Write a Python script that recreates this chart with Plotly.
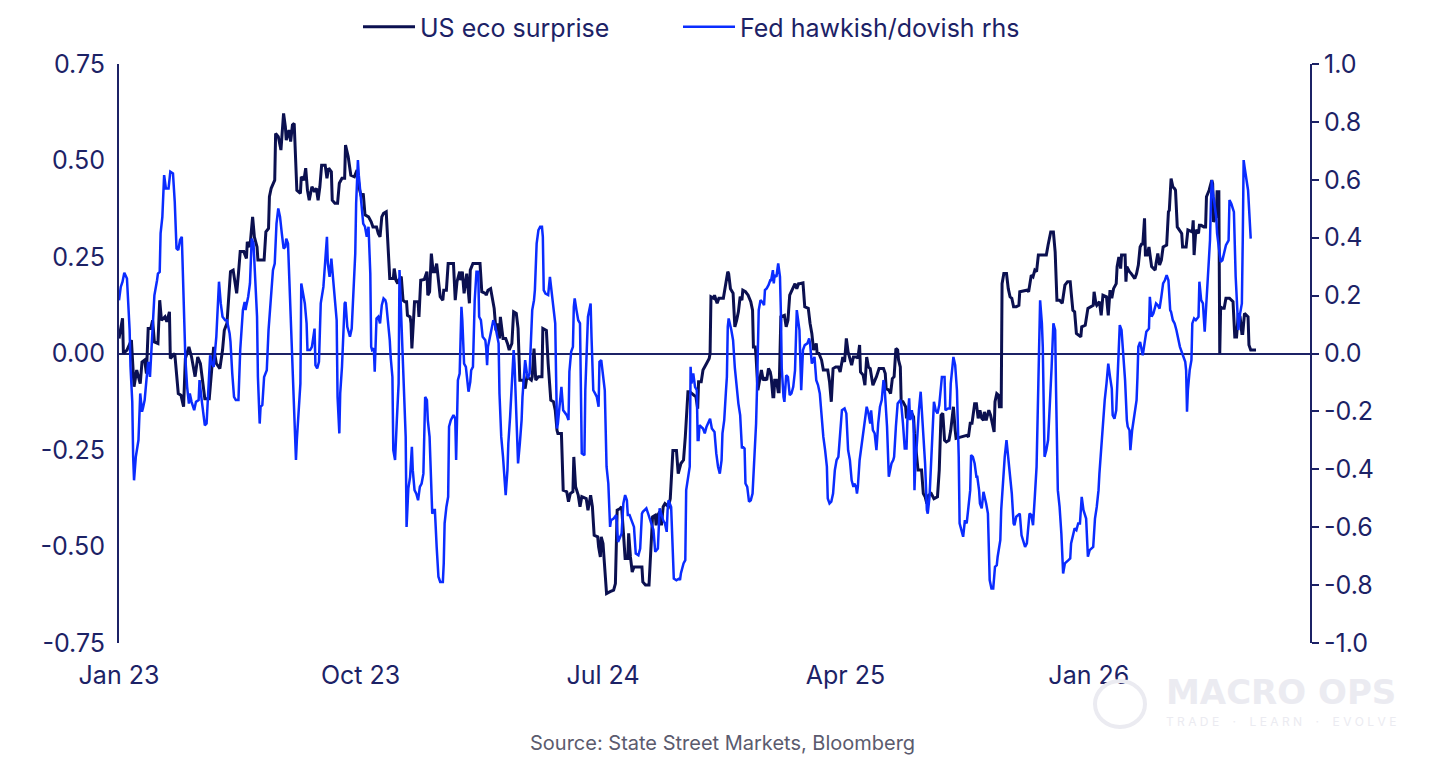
import pandas as pd
import plotly.graph_objects as go

START = pd.Timestamp("2023-01-01")

# ---- US eco surprise (left axis): day offset from 2023-01-01, value ----
eco_days = [
    0, 4, 5, 9, 14, 17, 20, 24, 26, 29, 31, 33, 36, 38, 40, 44, 46, 48, 52, 54, 57, 58, 63, 67, 70, 73, 75, 79, 82, 86,
    89, 92, 97, 102, 105, 107, 110, 114, 117, 119, 122, 124, 126, 129, 133, 135, 137, 141, 144, 145, 148, 151, 153, 156,
    157, 164, 166, 169, 170,
    172, 176, 177, 180, 183, 186, 188, 189, 192, 194, 196, 198, 201, 205, 206, 209, 211, 213, 215, 218, 221, 223, 225,
    227, 229, 233, 235, 237, 240, 241, 244, 247, 249, 252, 255, 256, 259, 262, 266, 269, 272, 274, 276, 278, 282, 285,
    287, 291, 293, 295, 297, 299, 302, 304, 305, 306, 310, 311, 313, 315, 316, 319, 321, 323, 325, 326, 329, 330, 331,
    334, 338, 339, 341, 345,
    348, 349, 351, 353, 355, 357, 359, 361, 363, 366, 367, 370, 372, 378, 380, 382, 385, 386, 388, 390, 393, 396, 397,
    400, 408, 410, 414, 415, 417, 420, 422, 424, 426, 428, 430, 431, 434, 437, 439, 441, 444, 446, 449, 451, 453, 457,
    459, 461, 466, 467, 469, 471, 474, 478, 479, 483, 485, 488, 491, 493, 495, 496, 500, 502, 506, 508, 510, 513, 514,
    516, 519, 521,
    523, 528, 530, 533, 535, 537, 541, 542, 544, 545, 547, 549, 551, 555, 559, 561, 563, 566, 568, 570, 572, 575, 576,
    578, 580, 582, 591, 592, 595, 599, 601, 603, 606, 607, 609, 611, 613, 615, 617, 621, 623, 624, 626, 630, 632, 635,
    638, 640, 643, 645, 648, 652, 654, 655, 658, 660, 664, 667, 668, 669, 672, 673, 676, 678, 683, 685, 688, 689, 691,
    694,
    696, 698, 700, 702, 704, 705, 708, 711, 714, 716, 717, 719, 720, 722, 724, 726, 728, 730, 732, 734, 736, 737, 739,
    740, 741, 743, 745, 746, 748, 751, 752, 754, 756, 758, 760, 762, 764, 766, 768, 769, 773, 775, 779, 781, 783, 785,
    786, 788, 789, 791, 794, 796, 801, 803, 805, 807, 810, 813, 815, 818, 820, 822, 824, 828, 830, 834, 835, 837, 838,
    841, 843, 845, 847, 849, 852, 854, 856, 859, 864, 866, 867, 870,
    872, 874, 876, 878, 880, 881, 883, 884, 886, 889, 890, 892, 894, 896, 898, 899, 901, 903, 907, 909, 911, 913, 915,
    918, 921, 925, 927, 929, 931, 933, 935, 938, 940, 943, 945, 946, 958, 960, 962, 964, 967, 969, 971, 973, 975, 977,
    978, 980, 983, 985, 987, 989, 990, 992, 994, 995, 997, 998, 1000, 1003, 1005, 1007, 1009, 1011, 1014, 1017, 1018,
    1026, 1028, 1029, 1031, 1033, 1035, 1037, 1039, 1046,
    1048, 1050, 1053, 1056, 1058, 1060, 1063, 1066, 1069, 1072, 1075, 1076, 1078, 1080, 1082, 1087, 1088, 1092, 1093,
    1095, 1101, 1102, 1104, 1105, 1108, 1110, 1112, 1116, 1118, 1120, 1122, 1124, 1127, 1128, 1130, 1132, 1133, 1137,
    1138, 1139, 1142, 1144, 1148, 1150, 1152, 1154, 1156, 1157, 1159, 1160, 1162, 1164, 1167, 1171, 1172, 1174, 1176,
    1178, 1180, 1184, 1186, 1187, 1189, 1191, 1193, 1194, 1196, 1201, 1202, 1206, 1208, 1213, 1214, 1215, 1217, 1220,
    1221,
    1223, 1226, 1228, 1229, 1232, 1235, 1236, 1237, 1240, 1241, 1243, 1244, 1245, 1247, 1249, 1251, 1255, 1259, 1261,
    1263, 1265, 1267, 1269, 1270, 1272, 1276, 1277, 1279, 1285,
]
eco_vals = [
    0.039, 0.091, 0.0, 0.009, 0.035, -0.086, -0.043, -0.078, -0.022, -0.017, -0.052, 0.065, 0.065, 0.086, 0.030, 0.026,
    0.138, 0.086, 0.095, 0.082, 0.108, -0.013, 0.0, -0.104, -0.108, -0.138, -0.013, 0.017, -0.009, -0.060,
    -0.009, -0.026, -0.117, -0.117, -0.035, 0.017, -0.026, -0.039, 0.009, 0.060, 0.078, 0.143, 0.212, 0.216, 0.156,
    0.207, 0.264, 0.264, 0.246, 0.289, 0.276, 0.354, 0.302, 0.276,
    0.242, 0.242, 0.315, 0.324, 0.406,
    0.428, 0.449, 0.570, 0.562, 0.527, 0.622, 0.588, 0.553, 0.579, 0.549, 0.592, 0.596, 0.423, 0.415, 0.458, 0.449,
    0.480, 0.423, 0.397, 0.432, 0.419, 0.428, 0.397,
    0.432, 0.488, 0.488, 0.454, 0.480, 0.471, 0.397, 0.389, 0.389, 0.441, 0.454, 0.454, 0.540, 0.510, 0.462, 0.458,
    0.475, 0.423, 0.406, 0.415, 0.359, 0.354, 0.341,
    0.328, 0.328, 0.311, 0.302, 0.354, 0.363, 0.367, 0.268, 0.259, 0.194, 0.194, 0.220, 0.190, 0.181, 0.190, 0.199,
    0.138, 0.134, 0.134, 0.099, 0.095, 0.078, 0.013,
    0.134, 0.134, 0.095, 0.190, 0.192,
    0.212, 0.151, 0.160, 0.259, 0.212, 0.212, 0.233, 0.181, 0.147, 0.138, 0.164, 0.164, 0.233, 0.233, 0.138, 0.186,
    0.212, 0.190, 0.212, 0.156, 0.207, 0.130, 0.216,
    0.233, 0.233, 0.160, 0.156, 0.151, 0.164, 0.168, 0.147, 0.117, 0.060, 0.078, 0.039, 0.095, 0.039, 0.039, 0.026,
    0.009, 0.026, 0.108, 0.104, 0.065, -0.069, -0.069,
    -0.091, -0.060, -0.069, -0.060, 0.013, -0.069, -0.060, -0.060, 0.065, 0.060, -0.026, -0.121, -0.125, -0.147,
    -0.199, -0.207, -0.207, -0.354, -0.358, -0.384, -0.363, -0.358, -0.268,
    -0.345, -0.367, -0.397,
    -0.371, -0.376, -0.406, -0.367, -0.397, -0.471, -0.475, -0.501, -0.527, -0.475, -0.492, -0.561, -0.622, -0.617,
    -0.613, -0.596, -0.406, -0.402, -0.397, -0.462, -0.531, -0.531, -0.466,
    -0.527, -0.566, -0.553, -0.553, -0.592, -0.600, -0.600, -0.510, -0.423, -0.419, -0.445, -0.419, -0.410, -0.445,
    -0.397, -0.389, -0.397, -0.376, -0.324, -0.251, -0.251, -0.311, -0.285,
    -0.276, -0.216, -0.099, -0.099, -0.104, -0.112, -0.143, -0.073, -0.073, -0.043, -0.026, -0.013, 0.0, 0.147, 0.143,
    0.151, 0.130, 0.143, 0.143, 0.173, 0.212, 0.207, 0.168,
    0.156,
    0.069, 0.086, 0.108, 0.147, 0.138, 0.164, 0.160, 0.151, 0.134, 0.112, 0.017, 0.017, -0.009, -0.095, -0.069, -0.043,
    -0.069, -0.065, -0.069, -0.039, -0.048, -0.060, -0.112,
    -0.112, -0.069, -0.069, -0.099, -0.099, 0.095, 0.099, 0.099, 0.069, 0.086, 0.151, 0.160, 0.173, 0.181, 0.168,
    0.181, 0.181, 0.183, 0.121, 0.117, 0.078, 0.052, 0.009,
    0.017, 0.026, 0.0, 0.0, -0.017, -0.043, -0.043, -0.073, -0.125, -0.039, -0.035, -0.035, -0.048, -0.009, -0.022,
    0.039, 0.004, -0.030, -0.009, -0.009, -0.013, 0.022, -0.048,
    -0.056, -0.082, -0.009, -0.035, -0.039, -0.082, -0.073, -0.060, -0.039, -0.039, -0.052, -0.091, -0.095,
    -0.104, -0.065, -0.060, 0.013, 0.009, -0.017, -0.035, -0.125, -0.125, -0.138, -0.168, -0.147, -0.160, -0.155,
    -0.164, -0.207, -0.251, -0.302, -0.302, -0.363, -0.371, -0.389, -0.367,
    -0.363, -0.376, -0.371, -0.302, -0.160, -0.155, -0.225, -0.229, -0.225, -0.199, -0.138, -0.199, -0.220, -0.212,
    -0.216, -0.181, -0.181, -0.130, -0.130, -0.168, -0.147, -0.168, -0.173,
    -0.151, -0.173, -0.147, -0.160, -0.181, -0.203, -0.125, -0.104, -0.108, -0.138, -0.138, 0.181, 0.207, 0.207, 0.168,
    0.147, 0.143, 0.121, 0.121, 0.125, 0.160,
    0.164, 0.160, 0.173, 0.203, 0.199, 0.216, 0.212, 0.255, 0.255,
    0.255, 0.281, 0.315, 0.315, 0.263, 0.138, 0.138, 0.130, 0.177, 0.186, 0.186, 0.160, 0.112, 0.108, 0.052, 0.043,
    0.069, 0.073, 0.091,
    0.117, 0.125, 0.160, 0.130, 0.125, 0.134, 0.099, 0.151, 0.147, 0.099, 0.164, 0.143, 0.168, 0.181, 0.225, 0.250,
    0.220, 0.255, 0.255,
    0.186, 0.225, 0.212, 0.207, 0.194, 0.207, 0.229, 0.276, 0.285, 0.281, 0.350, 0.255, 0.255, 0.276, 0.225, 0.216,
    0.233, 0.259, 0.229,
    0.242, 0.276, 0.281, 0.367, 0.371, 0.453, 0.432, 0.427, 0.423, 0.328, 0.311, 0.276, 0.276, 0.320, 0.315, 0.345,
    0.255, 0.320, 0.311,
    0.332,
    0.332, 0.328, 0.328, 0.406, 0.423, 0.449, 0.440, 0.341, 0.354, 0.419, 0.419, 0.0, 0.121, 0.117, 0.117, 0.143,
    0.143, 0.134, 0.043,
    0.043, 0.104, 0.095, 0.052, 0.052, 0.104, 0.095, 0.022, 0.009, 0.009,
]

# ---- Fed hawkish/dovish (right axis): day offset from 2023-01-01, value ----
fed_days = [
    0, 2, 4, 6, 9, 11, 12, 13, 15, 16, 17, 19, 22, 24, 26, 27, 29, 31, 33, 35, 37, 39, 40, 43, 44, 46, 47, 49, 51, 53,
    56, 58, 61, 63, 65, 67, 69, 71, 73, 75, 77, 79, 80, 82, 85, 87, 90, 91, 93, 95, 97, 99, 101, 103, 105, 107, 110,
    111, 113, 115, 117, 120, 122, 125, 126, 128, 130, 132, 135, 137, 139, 140, 142, 143, 144, 146, 148, 150, 152, 154,
    156, 157, 159, 160, 162, 164, 167, 169, 171,
    173, 174, 176, 178, 180, 182, 184, 186, 188, 189, 191, 193, 195, 197, 198, 200, 201, 203, 205, 206, 208, 210, 212,
    213, 216, 218, 221, 222, 224, 226, 228, 231, 233, 235, 236, 238, 240, 242, 244, 246, 247, 249, 250, 251, 252, 255,
    256, 258, 261, 263, 265, 267, 268, 270, 271, 272, 274, 276, 278, 280, 282, 284, 285, 286, 288, 289, 291, 293, 295,
    297, 299, 301, 302, 304, 306, 307, 309, 310, 312, 314, 316, 317, 319, 322, 324, 325, 327, 329, 331, 332, 334, 336,
    338, 340, 342, 344, 346,
    348, 349, 351, 353, 354, 356, 357, 359, 361, 363, 366, 367, 368, 370, 372, 373, 375, 378, 380, 381, 382, 383, 385,
    387, 388, 390, 392, 394, 395, 397, 398, 400, 402, 404, 406, 407, 409, 411, 414, 415, 416, 417, 419, 421, 423, 425,
    427, 429, 430, 432, 434, 436, 437, 439, 440, 442, 444, 446, 447, 449, 451, 453, 455, 456, 458, 459, 461, 462, 464,
    467, 469, 470, 472, 474, 476, 478, 479, 480, 482, 485, 487, 489, 491, 493, 494, 495, 496, 498, 500, 502, 504, 506,
    508, 509, 511, 513, 514, 515, 517, 519, 521,
    522, 523, 526, 527, 530, 531, 533, 534, 536, 538, 540, 542, 543, 545, 547, 549, 551, 553, 555, 556, 559, 562, 564,
    566, 568, 570, 572, 574, 575, 577, 580, 582, 584, 587, 589, 591, 592, 596, 598, 602, 604, 606, 609, 611, 615, 617,
    619, 620, 621, 624, 625, 627, 630, 633, 634, 635, 638, 640, 641, 643, 645, 646, 647, 649, 651, 653, 654, 655, 656,
    660, 662, 664, 668, 670, 673, 675, 677, 679, 681, 682, 684, 686, 687, 688, 689, 692, 694, 696,
    698, 700, 702, 704, 705, 707, 708, 710, 712, 714, 716, 717, 720, 721, 722, 723, 725, 727, 729, 730, 732, 734, 736,
    737, 739, 740, 741, 743, 745, 747, 748, 749, 751, 752, 754, 756, 758, 760, 762, 764, 766, 768, 769, 771, 773, 775,
    778, 780, 781, 783, 785, 786, 788, 790, 792, 794, 796, 798, 800, 801, 803, 805, 807, 809, 811, 813, 815, 817, 820,
    822, 824, 826, 828, 830, 831, 833, 834, 835, 837, 839, 841, 843, 845, 847, 849, 850, 852, 854, 856, 858, 860, 862,
    864, 865, 867, 868, 870,
    873, 875, 876, 878, 880, 883, 884, 886, 888, 890, 891, 893, 894, 896, 898, 899, 900, 902, 903, 904, 906, 908, 910,
    911, 913, 914, 916, 918, 919, 921, 923, 925, 927, 929, 930, 933, 934, 937, 939, 940, 942, 943, 945, 947, 948, 949,
    950, 952, 954, 956, 958, 960, 962, 963, 965, 967, 969, 970, 972, 973, 975, 977, 978, 980, 982, 983, 984, 986, 988,
    990, 992, 993, 994, 996, 997, 999, 1001, 1003, 1005, 1007, 1009, 1011, 1012, 1014, 1018, 1020, 1022, 1024, 1026,
    1028, 1029, 1031, 1033, 1035, 1037, 1039, 1041, 1043, 1044, 1046,
    1048, 1050, 1052, 1054, 1056, 1058, 1059, 1061, 1063, 1065, 1067, 1069, 1073, 1075, 1076, 1078, 1080, 1082, 1084,
    1086, 1088, 1090, 1092, 1093, 1095, 1097, 1101, 1103, 1105, 1107, 1108, 1110, 1112, 1114, 1116, 1118, 1120, 1122,
    1123, 1125, 1127, 1129, 1131, 1133, 1135, 1137, 1139, 1140, 1142, 1143, 1145, 1148, 1150, 1151, 1152, 1154, 1156,
    1157, 1159, 1161, 1164, 1165, 1167, 1169, 1171, 1172, 1174, 1176, 1178, 1180, 1182, 1184, 1186, 1187, 1188, 1189,
    1191, 1193, 1195, 1199, 1202, 1205, 1206, 1207, 1208, 1210, 1212, 1213, 1215, 1217, 1220, 1221,
    1223, 1225, 1227, 1229, 1231, 1233, 1234, 1235, 1237, 1240, 1241, 1243, 1245, 1247, 1249, 1251, 1254, 1255, 1257,
    1260, 1262, 1264, 1265, 1267, 1269, 1270, 1271, 1272, 1274, 1276, 1279,
]
fed_vals = [
    0.184, 0.230, 0.248, 0.279, 0.259, 0.150, 0.081, -0.046, -0.167, -0.357, -0.438, -0.357, -0.299, -0.138, -0.201,
    -0.190, -0.161, -0.092, -0.029, -0.081, 0.035, 0.144, 0.201, 0.253, 0.276, 0.282, 0.415, 0.472, 0.616, 0.570,
    0.570, 0.628, 0.622, 0.524, 0.363, 0.357, 0.392, 0.403, 0.219, -0.017, -0.115, -0.173, -0.138, -0.167, -0.196,
    -0.167, -0.161, -0.092, -0.150, -0.207, -0.248, -0.242, -0.115, -0.006, -0.035, -0.046, 0.058,
    0.127, 0.248, 0.173, 0.127, 0.115, 0.115, 0.069, 0.040, -0.069, -0.150, -0.161, -0.161, 0.012, 0.115, 0.150,
    0.178, 0.150, 0.167, 0.196, 0.242, 0.397, 0.380, 0.230,
    0.127, -0.081, -0.242, -0.184, -0.178, -0.081, -0.058, 0.081, 0.173,
    0.230, 0.288, 0.311, 0.449, 0.501, 0.472, 0.415, 0.363, 0.368, 0.397, 0.380, 0.219, 0.035, -0.069, -0.196, -0.368,
    -0.299, -0.196, -0.104, 0.242, 0.207, 0.173, 0.104,
    0.012, 0.012, 0.023, 0.086, -0.040, -0.052, -0.029, 0.173, 0.230, 0.317, 0.403, 0.311, 0.265, 0.328, 0.259, 0.161,
    0.115, -0.150, -0.276, -0.138, -0.092, -0.046, 0.173,
    0.178, 0.092, 0.058, 0.086, 0.242, 0.345, 0.518, 0.668, 0.616, 0.576, 0.530, 0.449, 0.438, 0.403, 0.438, 0.276,
    0.023, 0.012, 0.017, -0.063, 0.121, 0.127, 0.104,
    0.167, 0.190, 0.184, 0.173, 0.115, 0.046, -0.012, -0.081, -0.334, -0.368, -0.230, -0.104, 0.288, 0.104, -0.104,
    -0.288, -0.599, -0.466, -0.426, -0.322, -0.403, -0.472, -0.484,
    -0.507, -0.461, -0.449, -0.415, -0.150,
    -0.161, -0.230, -0.288, -0.495, -0.553, -0.541, -0.541, -0.668, -0.771, -0.789, -0.789, -0.725, -0.587, -0.530,
    -0.495, -0.253, -0.230, -0.213, -0.225, -0.368, -0.138, -0.092, -0.069,
    0.161, 0.115, -0.035, -0.046, -0.104, -0.132, -0.098, -0.058, -0.046, 0.184, 0.282, 0.282, 0.127, 0.115, 0.058,
    0.046, 0.017, -0.040, 0.023, 0.058, 0.081, 0.115, 0.098,
    0.058, 0.035, -0.138, -0.288, -0.357, -0.472, -0.489, -0.403, -0.311, -0.219, -0.081, 0.012, -0.035, -0.196,
    -0.380, -0.311, -0.230, -0.150, -0.063, -0.023, -0.069, -0.086, -0.069,
    0.150, 0.184, 0.219, 0.380, 0.426, 0.438, 0.438, 0.403, 0.219, 0.207, 0.202, 0.265, 0.207, 0.138, 0.104, -0.081,
    -0.259, -0.242, -0.184, -0.115, -0.196, -0.207, -0.213,
    -0.230, -0.063, 0.006, 0.023, 0.161, 0.190, 0.150, 0.115, 0.104,
    -0.196, -0.345, -0.351, -0.127, 0.127, 0.144, 0.173, 0.058, -0.127, -0.138, -0.150, -0.184, -0.029, -0.023, -0.081,
    -0.127, -0.391, -0.449, -0.599, -0.576, -0.570, -0.558, -0.651,
    -0.639, -0.622, -0.518, -0.489, -0.507, -0.558, -0.558, -0.587, -0.599, -0.691, -0.697, -0.674, -0.553, -0.547,
    -0.535, -0.553, -0.587, -0.610, -0.685, -0.674, -0.535, -0.576, -0.587,
    -0.616, -0.541, -0.507, -0.530, -0.645, -0.777, -0.783, -0.777, -0.783, -0.760, -0.725, -0.714, -0.472, -0.438,
    -0.391, -0.046, -0.104, -0.069, -0.115, -0.127, -0.299, -0.299, -0.248,
    -0.259, -0.276, -0.253, -0.225, -0.259, -0.271, -0.345, -0.391, -0.415, -0.368, -0.276, -0.230, -0.127, -0.081,
    0.092, 0.121, 0.081, 0.046, -0.050,
    -0.127, -0.173, -0.213, -0.328, -0.322, -0.328, -0.449, -0.461, -0.512, -0.507, -0.484, -0.432, -0.242, -0.127,
    0.023, 0.150, 0.184, 0.178, 0.167, 0.219, 0.225, 0.236, 0.253,
    0.253, 0.288, 0.242, 0.271, 0.265, 0.311, 0.265, 0.144, -0.052, -0.150, -0.167, -0.075, -0.081, -0.144, -0.138,
    -0.115, -0.058, 0.150, 0.104, 0.081, -0.127, 0.012, 0.029,
    0.035, 0.052, 0.035, -0.035, -0.023, -0.012, -0.092, -0.109, -0.138, -0.225, -0.288, -0.334, -0.391, -0.501,
    -0.518, -0.512, -0.484, -0.403, -0.368, -0.357, -0.265, -0.196, -0.190,
    -0.207, -0.334, -0.368, -0.438, -0.461, -0.449, -0.461, -0.484, -0.461, -0.368, -0.322, -0.265, -0.230, -0.184,
    -0.207, -0.242, -0.196, -0.265, -0.276, -0.334, -0.242, -0.184, -0.161,
    -0.092, -0.104, -0.184, -0.253, -0.426,
    -0.380, -0.368, -0.357, -0.253, -0.173, -0.161, -0.173, -0.242, -0.328, -0.328, -0.230, -0.155, -0.230, -0.196,
    -0.242, -0.472, -0.380, -0.299, -0.242, -0.196, -0.132, -0.230, -0.311,
    -0.380, -0.541, -0.553, -0.495, -0.380, -0.276, -0.167, -0.196, -0.207, -0.178, -0.092, -0.081, -0.081, -0.196,
    -0.190, -0.190, -0.104, -0.052, -0.012, -0.040, -0.127, -0.242, -0.357,
    -0.587, -0.616, -0.633, -0.576, -0.587, -0.530, -0.472, -0.351, -0.357, -0.380, -0.426, -0.426, -0.472, -0.518,
    -0.535, -0.478, -0.489, -0.518, -0.553, -0.702, -0.783, -0.812, -0.812,
    -0.737, -0.731, -0.702, -0.679, -0.645, -0.541, -0.438, -0.357, -0.299, -0.357, -0.426, -0.484, -0.587, -0.593,
    -0.564, -0.553, -0.628, -0.645, -0.668, -0.656,
    -0.587, -0.553, -0.558, -0.593, -0.495, -0.391, -0.104, 0.184, 0.104, 0.023, -0.357,
    -0.334, -0.299, -0.184, -0.046, 0.104, 0.081, -0.127, -0.472, -0.530, -0.622, -0.760, -0.725, -0.714, -0.708,
    -0.656, -0.633, -0.604, -0.610, -0.587,
    -0.587, -0.495, -0.541, -0.558, -0.570, -0.702, -0.679, -0.668, -0.570, -0.530, -0.472, -0.415, -0.322, -0.230,
    -0.161, -0.104, -0.035, -0.081, -0.121,
    -0.213, -0.225, -0.196, -0.035, 0.098, 0.081, 0.0, -0.092, -0.230, -0.253, -0.265, -0.334, -0.265, -0.196, -0.161,
    -0.081, 0.023, 0.040, 0.0,
    -0.006, 0.035, 0.075, 0.086, 0.196, 0.127, 0.138, 0.161, 0.173, 0.167, 0.155, 0.196, 0.242, 0.253, 0.271, 0.253,
    0.184, 0.150, 0.144,
    0.115, 0.104, 0.081, 0.023, -0.006, -0.029, -0.058, -0.201, -0.127, -0.058, -0.023, 0.104, 0.121, 0.115, 0.127,
    0.248,
    0.184, 0.173, 0.075, 0.196, 0.299, 0.391, 0.518, 0.599, 0.541, 0.472, 0.415, 0.357, 0.317, 0.322, 0.345, 0.374,
    0.391, 0.530, 0.518,
    0.489, 0.265, 0.150, 0.081, 0.138, 0.173, 0.391, 0.668, 0.645, 0.610, 0.564, 0.397,
]

# ---- axis ticks ----
x_tick_dates = ["2023-01-01", "2023-10-01", "2024-07-01", "2025-04-01", "2026-01-01"]
x_tick_text = ["Jan 23", "Oct 23", "Jul 24", "Apr 25", "Jan 26"]
y1_ticks = [0.75, 0.5, 0.25, 0.0, -0.25, -0.5, -0.75]
y1_text = ["0.75", "0.50", "0.25", "0.00", "-0.25", "-0.50", "-0.75"]
y2_ticks = [1.0, 0.8, 0.6, 0.4, 0.2, 0.0, -0.2, -0.4, -0.6, -0.8, -1.0]
y2_text = ["1.0", "0.8", "0.6", "0.4", "0.2", "0.0", "-0.2", "-0.4", "-0.6", "-0.8", "-1.0"]

NAVY = "#0b1050"
BLUE = "#0a2cff"
AXIS = "#1c2266"
WM = "#ebebf1"
FONT = "Inter, Roboto, 'Open Sans', sans-serif"
FS = 25

eco_x = START + pd.to_timedelta(eco_days, unit="D")
fed_x = START + pd.to_timedelta(fed_days, unit="D")

fig = go.Figure()
fig.add_trace(go.Scatter(x=eco_x, y=eco_vals, name="US eco surprise", mode="lines",
                         line=dict(color=NAVY, width=3), yaxis="y", legend="legend"))
fig.add_trace(go.Scatter(x=fed_x, y=fed_vals, name="Fed hawkish/dovish rhs", mode="lines",
                         line=dict(color=BLUE, width=2.5), yaxis="y2", legend="legend2"))

# plot box in page pixels: left 119, right 1310, top 64, bottom 643
PW, PH = 1191.0, 579.0

leg_common = dict(orientation="h", xanchor="left", y=1 + 37 / PH, yanchor="middle",
                  font=dict(size=FS, color=AXIS), itemwidth=52, bgcolor="rgba(0,0,0,0)")

fig.update_layout(
    width=1434, height=768,
    margin=dict(l=119, r=124, t=64, b=125, autoexpand=False),
    paper_bgcolor="white", plot_bgcolor="white",
    font=dict(family=FONT, color=AXIS, size=FS),
    showlegend=True,
    legend=dict(x=(358 - 119) / PW, **leg_common),
    legend2=dict(x=(678 - 119) / PW, **leg_common),
    xaxis=dict(type="date", range=["2023-01-01", "2026-09-08"], tickvals=x_tick_dates, ticktext=x_tick_text,
               showgrid=False, showline=False, zeroline=False, ticks="", ticklabelstandoff=15,
               tickfont=dict(size=FS, color=AXIS)),
    yaxis=dict(range=[-0.75, 0.75], tickvals=y1_ticks, ticktext=y1_text, showgrid=False,
               showline=True, linecolor=AXIS, linewidth=2, zeroline=True, zerolinecolor=AXIS,
               zerolinewidth=2, ticks="", ticklabelstandoff=7, tickfont=dict(size=FS, color=AXIS)),
    yaxis2=dict(range=[-1, 1], overlaying="y", side="right", tickvals=y2_ticks, ticktext=y2_text,
                showgrid=False, showline=True, linecolor=AXIS, linewidth=2, zeroline=False,
                ticks="outside", ticklen=7, tickwidth=2, tickcolor=AXIS, ticklabelstandoff=0,
                tickfont=dict(size=FS, color=AXIS)),
    annotations=[
        dict(text="Source: State Street Markets, Bloomberg", xref="paper", yref="paper", x=(722 - 119) / PW,
             y=(643 - 743) / PH, xanchor="center", yanchor="middle", showarrow=False,
             font=dict(size=20, color="#5b5b6e")),
        dict(text="<b>MACRO OPS</b>", xref="paper", yref="paper", x=(1281 - 119) / PW, y=(643 - 692) / PH,
             xanchor="center", yanchor="middle", showarrow=False,
             font=dict(size=34, color=WM, family="'DejaVu Sans', Inter")),
        dict(text="T\u00a0R\u00a0A\u00a0D\u00a0E\u00a0\u00a0\u00a0\u00a0·\u00a0\u00a0\u00a0\u00a0"
                  "L\u00a0E\u00a0A\u00a0R\u00a0N\u00a0\u00a0\u00a0\u00a0·\u00a0\u00a0\u00a0\u00a0"
                  "E\u00a0V\u00a0O\u00a0L\u00a0V\u00a0E",
             xref="paper", yref="paper",
             x=(1281 - 119) / PW, y=(643 - 721) / PH, xanchor="center", yanchor="middle", showarrow=False,
             font=dict(size=12, color=WM)),
    ],
    shapes=[
        dict(type="circle", xref="paper", yref="paper", x0=(1095 - 119) / PW, x1=(1145 - 119) / PW,
             y0=(643 - 727) / PH, y1=(643 - 681) / PH, line=dict(color=WM, width=4)),
    ],
)

fig.write_html("out.html")
